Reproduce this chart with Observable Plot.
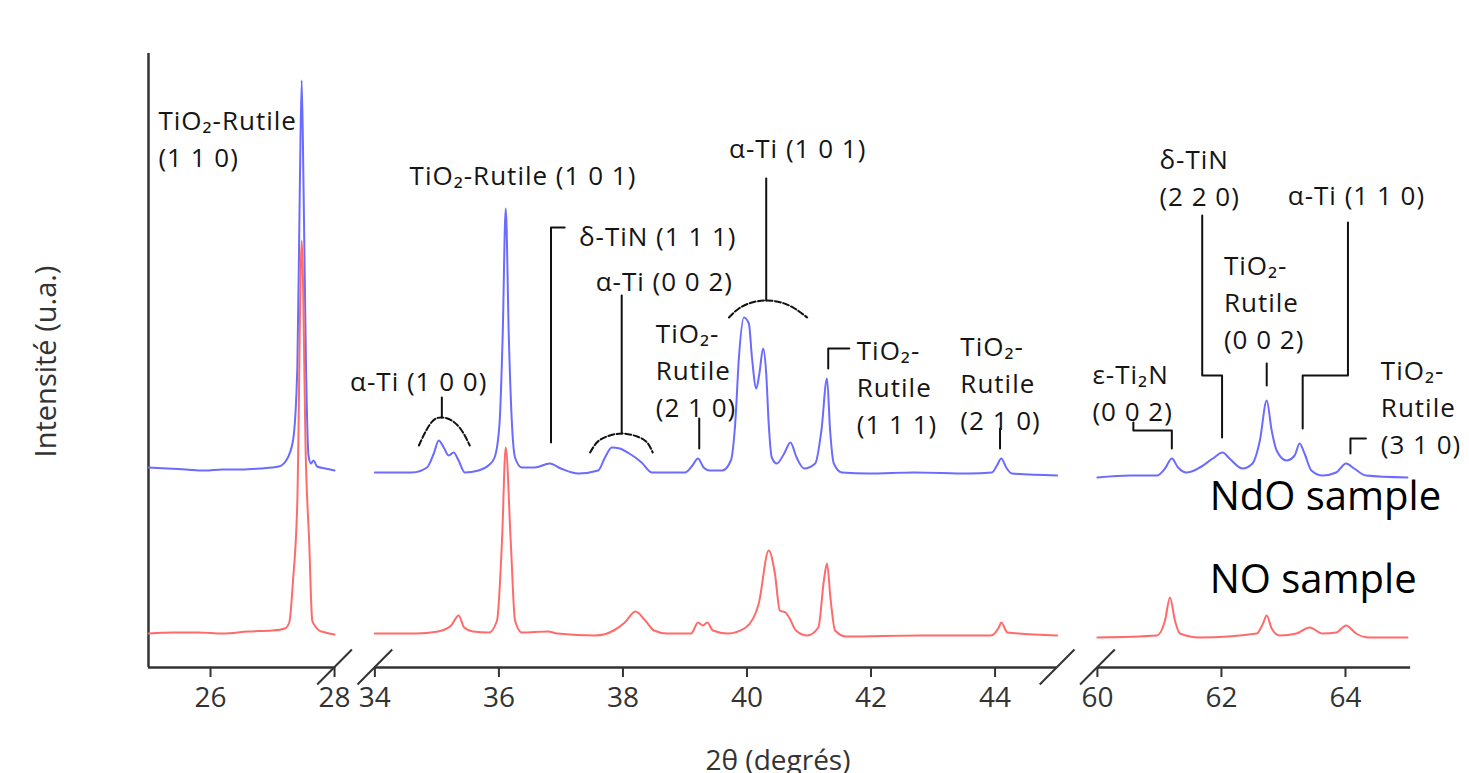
<!DOCTYPE html>
<html>
<head>
<meta charset="utf-8">
<script src="https://cdn.jsdelivr.net/npm/d3@7"></script>
<script src="https://cdn.jsdelivr.net/npm/@observablehq/plot@0.6"></script>
<style>
  html, body { margin: 0; padding: 0; background: #fff; overflow: hidden; }
  #chart svg { display: block; }
  #chart svg g.peak-label text { letter-spacing: 1px; }
</style>
</head>
<body>
<div id="chart"></div>
<script>
// ---- broken x axis: visible 2θ ranges ----
const segments = [[25, 28], [34, 45], [60, 65]];
const GAP = 0.65;                       // width of each break, in degree-equivalents
const tickValues = [26, 28, 34, 36, 38, 40, 42, 44, 60, 62, 64];
const breakPoints = [28, 34, 45, 60];

// ---- NdO sample (blue) ----
const ndoTheta = [
  25.0, 25.3, 25.6, 25.9, 26.2, 26.5, 26.8, 27.1, 27.22, 27.33, 27.40, 27.44, 27.47, 27.50, 27.54, 27.58, 27.62, 27.66, 27.72, 27.85, 28.0,
  34.0, 34.3, 34.6, 34.84, 34.95, 35.03, 35.11, 35.19, 35.27, 35.35,
  35.45, 35.67, 35.83, 35.93, 36.01, 36.06, 36.11, 36.16, 36.21, 36.26,
  36.37, 36.58, 36.82, 37.0, 37.28, 37.6, 37.71, 37.82, 37.95, 38.1,
  38.2, 38.3, 38.47, 39.0, 39.12, 39.21, 39.3, 39.4, 39.6, 39.74,
  39.81, 39.87, 39.95, 40.03, 40.08, 40.15, 40.2, 40.26, 40.31, 40.35,
  40.4, 40.48, 40.6, 40.7, 40.8, 40.92, 41.1, 41.2, 41.29, 41.34,
  41.4, 41.53, 41.96, 42.7, 43.58, 43.95, 44.03, 44.1, 44.18, 44.27, 45.0,
  60.0, 60.53, 60.96, 61.09, 61.2, 61.3, 61.44, 61.65, 61.86, 62.02, 62.13, 62.34, 62.5, 62.62,
  62.73, 62.81, 62.89, 63.05, 63.18, 63.26, 63.34, 63.45, 63.63, 63.85, 64.01, 64.14, 64.33, 65.0
];
const ndoIntensity = [
  35, 34, 33, 32, 33, 33, 34, 36, 42, 62, 135, 315, 422, 315, 135, 47, 39, 42, 36, 34, 32,
  30, 30, 30, 35, 49, 62, 55, 47, 50, 42,
  30, 32, 37, 45, 79, 165, 294, 165, 79, 45,
  35, 35, 39, 34, 29, 32, 45, 55, 54, 49,
  45, 40, 30, 30, 37, 44, 35, 32, 32, 42,
  79, 145, 185, 179, 145, 114, 129, 154, 129, 79,
  45, 39, 49, 60, 45, 34, 39, 72, 124, 72,
  39, 30, 29, 30, 29, 30, 37, 44, 35, 29, 27,
  25, 27, 27, 34, 44, 35, 30, 35, 44, 50, 44, 34, 39, 62,
  102, 72, 52, 42, 47, 59, 49, 32, 27, 30, 39, 34, 27, 25
];
const NDO_OFFSET = 165;                 // vertical stacking of the NdO trace

// ---- NO sample (red) ----
const noTheta = [
  25.0, 25.4, 25.8, 26.2, 26.6, 27.0, 27.2, 27.27, 27.33, 27.40, 27.47, 27.54, 27.59, 27.64, 27.68, 27.75, 27.85, 28.0,
  34.0, 34.66, 35.02, 35.23, 35.35, 35.44, 35.58, 35.84, 35.97, 36.05, 36.11, 36.19, 36.26, 36.37, 36.79, 36.94,
  37.56, 37.85, 38.03, 38.2, 38.36, 38.5, 38.71, 39.1, 39.21, 39.29, 39.36, 39.45, 39.69, 39.98,
  40.19, 40.35, 40.45, 40.53, 40.62, 40.68, 40.79, 40.97, 41.15, 41.24, 41.29, 41.35, 41.42, 41.6,
  42.8, 43.93, 44.06, 44.1, 44.2, 45.0,
  60.0, 60.96, 61.09, 61.17, 61.25, 61.33, 61.65, 62.57, 62.67, 62.73, 62.81, 62.94, 63.21, 63.42,
  63.63, 63.85, 64.01, 64.17, 64.38, 65.0
];
const noIntensity = [
  34, 35, 35, 34, 36, 37, 39, 45, 87, 167, 427, 200, 127, 47, 42, 37, 35, 33,
  34, 34, 36, 42, 52, 40, 36, 35, 47, 127, 220, 127, 47, 35, 36, 34,
  32, 37, 45, 56, 47, 37, 34, 34, 45, 42, 45, 37, 34, 40,
  64, 117, 94, 57, 55, 50, 37, 32, 40, 87, 104, 67, 37, 31,
  32, 32, 40, 45, 35, 32,
  30, 32, 47, 70, 47, 34, 30, 34, 44, 52, 39, 32, 34, 40,
  34, 35, 42, 34, 30, 30
];

// ---- peak labels (text, 2θ, intensity at top of first line) ----
const labelText = [
  "TiO₂-Rutile\n(1 1 0)", "TiO₂-Rutile (1 0 1)", "δ-TiN (1 1 1)", "α-Ti (0 0 2)",
  "TiO₂-\nRutile\n(2 1 0)", "α-Ti (1 0 1)", "TiO₂-\nRutile\n(1 1 1)", "TiO₂-\nRutile\n(2 1 0)",
  "α-Ti (1 0 0)", "ε-Ti₂N\n(0 0 2)", "δ-TiN\n(2 2 0)", "TiO₂-\nRutile\n(0 0 2)",
  "α-Ti (1 1 0)", "TiO₂-\nRutile\n(3 1 0)"
];
const labelTheta = [25.16, 34.56, 37.29, 37.56, 38.53, 39.71, 41.77, 43.44, 33.6, 59.92, 61.0, 62.04, 63.07, 64.57];
const labelIntensity = [564, 509, 448, 403, 351, 536, 334, 338, 303, 310, 525, 419, 489, 314];

// ---- leader lines (polylines in 2θ / intensity) ----
const leaderTheta = [
  [37.06, 36.84, 36.84], [37.98, 37.98], [39.23, 39.23], [40.31, 40.31], [41.65, 41.31, 41.31],
  [44.08, 44.08], [35.08, 35.08], [60.58, 60.58, 61.2, 61.2], [61.69, 61.69, 62.01, 62.01],
  [62.73, 62.73], [64.04, 64.04, 63.31, 63.31], [64.33, 64.08, 64.08]
];
const leaderIntensity = [
  [440, 440, 225], [372, 234], [249, 219], [489, 367], [319, 319, 299],
  [239, 219], [270, 250], [245, 237, 237, 219], [452, 292, 292, 230],
  [304, 282], [445, 292, 292, 239], [229, 229, 214]
];
// ---- arc brackets grouping overlapping peaks ----
const bracketTheta = [
  [34.71, 34.81, 34.94, 35.08, 35.24, 35.40, 35.53],
  [37.47, 37.58, 37.74, 37.98, 38.23, 38.39, 38.48],
  [39.71, 39.87, 40.08, 40.31, 40.55, 40.77, 40.97]
];
const bracketIntensity = [
  [222, 235, 247, 250, 247, 237, 222],
  [215, 225, 231, 234, 231, 225, 215],
  [350, 359, 365, 367, 365, 359, 350]
];

const sampleNames = ["NdO sample", "NO sample"];
const sampleTheta = [61.81, 61.81];
const sampleIntensity = [186, 103];

// ---- broken-axis mapping ----
function segIndex(t) { return t < 31 ? 0 : t < 52 ? 1 : 2; }
function toU(t) {
  const i = segIndex(t);
  let off = 0;
  for (let k = 0; k < i; k++) off += segments[k][1] - segments[k][0] + GAP;
  return off + (t - segments[i][0]);
}
function fromU(u) {
  let off = 0;
  for (let k = 0; k < segments.length; k++) {
    const w = segments[k][1] - segments[k][0];
    if (u <= off + w + GAP / 2 || k === segments.length - 1) return Math.round((segments[k][0] + u - off) * 1000) / 1000;
    off += w + GAP;
  }
}
const uMax = toU(segments[2][1]);

const ndo = ndoTheta.map((t, i) => ({t, i: ndoIntensity[i] + NDO_OFFSET, s: segIndex(t)}));
const no = noTheta.map((t, i) => ({t, i: noIntensity[i], s: segIndex(t)}));
const labels = labelText.map((text, k) => ({text, t: labelTheta[k], i: labelIntensity[k]}));
const leaders = leaderTheta.flatMap((ts, k) => ts.map((t, j) => ({t, i: leaderIntensity[k][j], id: k})));
const brackets = bracketTheta.flatMap((ts, k) => ts.map((t, j) => ({t, i: bracketIntensity[k][j], id: k})));
const samples = sampleNames.map((name, k) => ({name, t: sampleTheta[k], i: sampleIntensity[k]}));

const chart = Plot.plot({
  width: 1469,
  height: 773,
  marginLeft: 148,
  marginRight: 62,
  marginTop: 55,
  marginBottom: 106,
  x: {domain: [0, uMax], axis: null},
  y: {domain: [0, 612], axis: null},
  style: {fontFamily: "'Open Sans', sans-serif", background: "#fff"},
  marks: [
    // axis lines
    Plot.ruleY(segments, {y: () => 0, x1: d => toU(d[0]), x2: d => toU(d[1] === 65 ? 65.05 : d[1]), stroke: "#333", strokeWidth: 2.5}),
    Plot.ruleX([segments[0][0]], {x: toU, y1: () => 0, y2: () => 614, stroke: "#333", strokeWidth: 2.5}),
    Plot.link(breakPoints, {x1: d => toU(d) - 0.28, x2: d => toU(d) + 0.28, y1: () => -17, y2: () => 18, stroke: "#333", strokeWidth: 2}),
    Plot.axisX(tickValues.map(toU), {tickSize: 10, tickPadding: 10, tickFormat: fromU, fontSize: 28, color: "#333", strokeWidth: 2, label: null}),
    Plot.text(["Intensité (u.a.)"], {frameAnchor: "left", dx: -102, rotate: -90, textAnchor: "middle", lineAnchor: "middle", fontSize: 29, fill: "#333"}),
    Plot.text(["2θ (degrés)"], {frameAnchor: "bottom", dy: 83, textAnchor: "middle", lineAnchor: "top", fontSize: 28, fill: "#333"}),
    // traces
    Plot.line(ndo, {x: d => toU(d.t), y: "i", z: "s", stroke: "#6b6bff", strokeWidth: 2, curve: "monotone-x"}),
    Plot.line(no, {x: d => toU(d.t), y: "i", z: "s", stroke: "#ff6b6b", strokeWidth: 2, curve: "monotone-x"}),
    // annotations
    Plot.line(leaders, {x: d => toU(d.t), y: "i", z: "id", stroke: "#111", strokeWidth: 2}),
    Plot.line(brackets, {x: d => toU(d.t), y: "i", z: "id", stroke: "#111", strokeWidth: 2, strokeDasharray: "6,2.5", curve: "natural"}),
    Plot.text(labels, {x: d => toU(d.t), y: "i", text: "text", textAnchor: "start", lineAnchor: "top", lineHeight: 1.42, fontSize: 26, fill: "#151515", className: "peak-label"}),
    Plot.text(samples, {x: d => toU(d.t), y: "i", text: "name", textAnchor: "start", lineAnchor: "top", fontSize: 40, fill: "#000"})
  ]
});
document.getElementById("chart").appendChild(chart);
</script>
</body>
</html>
